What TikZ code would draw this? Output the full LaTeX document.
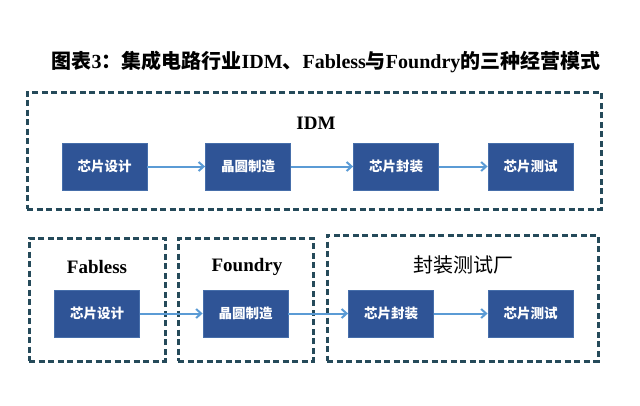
\documentclass[tikz,border=0pt]{standalone}
\usepackage{fontspec}
\setmainfont{Liberation Serif}
\newfontfamily\cjk{Noto Sans CJK SC}
\usetikzlibrary{arrows.meta}
\definecolor{stepblue}{RGB}{47,84,150}
\definecolor{stepedge}{RGB}{70,110,170}
\definecolor{flowblue}{RGB}{91,155,213}
\definecolor{frameteal}{RGB}{37,74,90}
\tikzset{
    stepbox/.style={draw=stepedge, line width=0.8pt, fill=stepblue, minimum width=85pt, minimum height=47pt, inner sep=0pt, text=white, font=\cjk\bfseries\fontsize{13.5}{13.5}\selectfont},
    framebox/.style={draw=frameteal, line width=3pt, dash pattern=on 6pt off 3.5pt, inner sep=0pt},
    flow/.style={-{Straight Barb[length=5pt,width=9pt]}, draw=flowblue, line width=2pt},
    grouptitle/.style={font=\bfseries\fontsize{19}{19}\selectfont}
}
\begin{document}
\begin{tikzpicture}[x=1pt, y=-1pt]
    \useasboundingbox (0,0) rectangle (640,405);
    % Titolo
    \node[font=\bfseries\fontsize{20}{20}\selectfont] (title) at (326,62) {{\cjk 图表}3{\cjk ：集成电路行业}IDM{\cjk 、}Fabless{\cjk 与}Foundry{\cjk 的三种经营模式}};

    % Riquadri tratteggiati
    \node[framebox, minimum width=574pt, minimum height=117pt] (idm_box) at (314,150.5) {};
    \node[framebox, minimum width=136pt, minimum height=123pt] (fabless_box) at (97,299.5) {};
    \node[framebox, minimum width=135pt, minimum height=123pt] (foundry_box) at (245.5,299.5) {};
    \node[framebox, minimum width=271pt, minimum height=126pt] (osat_box) at (462.5,298) {};

    % Titoli dei gruppi
    \node[grouptitle] (idm_title) at (316,123) {IDM};
    \node[grouptitle] (fabless_title) at (97,267) {Fabless};
    \node[grouptitle] (foundry_title) at (247,267) {Foundry};
    \node[font=\cjk\fontsize{20}{20}\selectfont] (osat_title) at (463,265) {封装测试厂};

    % Fasi IDM
    \node[stepbox] (idm_design) at (104.5,166.5) {芯片设计};
    \node[stepbox] (idm_wafer) at (248,166.5) {晶圆制造};
    \node[stepbox] (idm_pack) at (396,166.5) {芯片封装};
    \node[stepbox] (idm_test) at (530.5,166.5) {芯片测试};

    % Fasi separate
    \node[stepbox] (sep_design) at (97,313.5) {芯片设计};
    \node[stepbox] (sep_wafer) at (245.5,313.5) {晶圆制造};
    \node[stepbox] (sep_pack) at (391,313.5) {芯片封装};
    \node[stepbox] (sep_test) at (530.5,313.5) {芯片测试};

    % Frecce
    \draw[flow] (idm_design) -- (idm_wafer);
    \draw[flow] (idm_wafer) -- (idm_pack);
    \draw[flow] (idm_pack) -- (idm_test);
    \draw[flow] (sep_design) -- (sep_wafer);
    \draw[flow] (sep_wafer) -- (sep_pack);
    \draw[flow] (sep_pack) -- (sep_test);
\end{tikzpicture}
\end{document}
